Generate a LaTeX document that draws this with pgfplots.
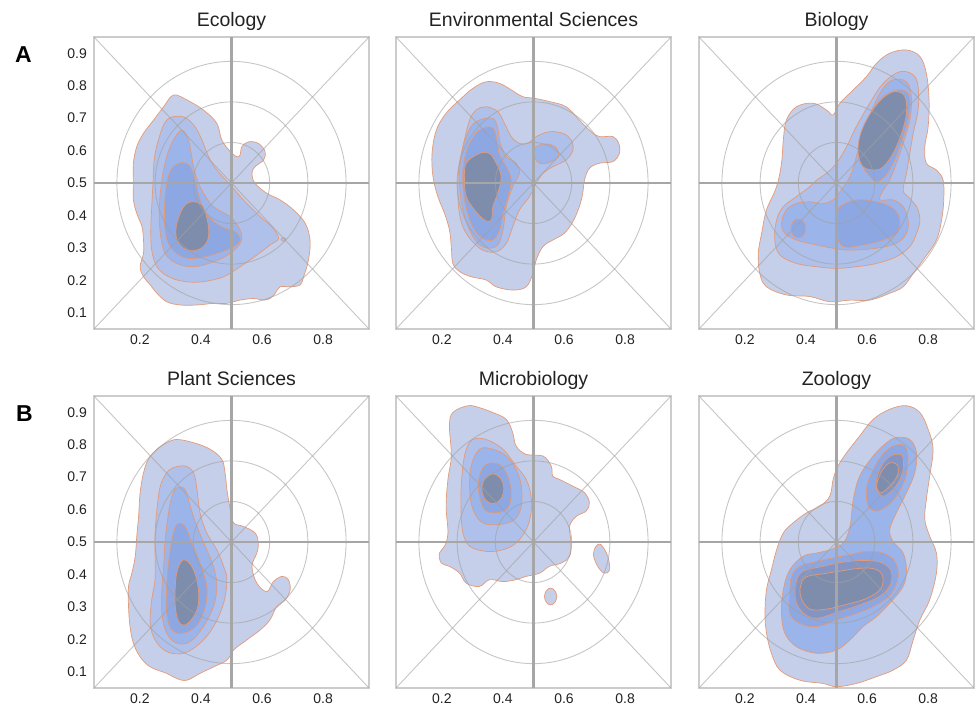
\documentclass[border=0pt]{standalone}
\usepackage{fontspec}
\setmainfont{Liberation Sans}
\usepackage{pgfplots}
\pgfplotsset{compat=1.18}
\definecolor{lvA}{HTML}{C5CFE9}
\definecolor{lvB}{HTML}{AFC1EA}
\definecolor{lvC}{HTML}{9BB4E9}
\definecolor{lvD}{HTML}{8CA7E2}
\definecolor{lvDz}{HTML}{8595C3}
\definecolor{lvE}{HTML}{7F8DAD}
\definecolor{edgec}{HTML}{E39A78}
\definecolor{framegray}{HTML}{CCCCCC}
\definecolor{centergray}{HTML}{A6A6A6}
\definecolor{gridgray}{HTML}{A0A0A0}
\definecolor{txt}{HTML}{222222}
\pgfplotsset{
  kde/.style={
    scale only axis, width=275pt, height=292pt,
    xmin=0.05, xmax=0.95, ymin=0.05, ymax=0.95,
    xtick={0.2,0.4,0.6,0.8}, ytick={0.1,0.2,0.3,0.4,0.5,0.6,0.7,0.8,0.9},
    major tick length=0pt,
    tick label style={font=\fontsize{14}{15}\selectfont, inner sep=0pt, text=txt},
    /pgf/number format/.cd, fixed, fixed zerofill, precision=1, assume math mode=true, /pgfplots/.cd,
    yticklabel shift=7pt, xticklabel shift=6pt,
    axis line style={line width=2.5pt, color=framegray},
    title style={font=\fontsize{19.5}{21}\selectfont, at={(0.5,1)}, anchor=base, yshift=4.5pt, text=txt},
  },
  noy/.style={yticklabels={}},
  L1/.style={fill=lvA, draw=edgec, line width=0.7pt, smooth cycle, tension=0.6},
  L2/.style={fill=lvB, draw=edgec, line width=0.7pt, smooth cycle, tension=0.6},
  L3/.style={fill=lvC, draw=edgec, line width=0.7pt, smooth cycle, tension=0.6},
  L4/.style={fill=lvD, draw=edgec, line width=0.7pt, smooth cycle, tension=0.6},
  Z4/.style={fill=lvDz, draw=edgec, line width=0.7pt, smooth cycle, tension=0.6},
  L5/.style={fill=lvE, draw=edgec, line width=0.7pt, smooth cycle, tension=0.6},
}
\newcommand\panelgrid{%
  \draw[gridgray, opacity=0.6, line width=0.9pt] (axis cs:0.05,0.05) -- (axis cs:0.95,0.95);
  \draw[gridgray, opacity=0.6, line width=0.9pt] (axis cs:0.05,0.95) -- (axis cs:0.95,0.05);
  \draw[gridgray, opacity=0.6, line width=0.9pt] (axis cs:0.5,0.5) ellipse [x radius=0.125, y radius=0.125];
  \draw[gridgray, opacity=0.6, line width=0.9pt] (axis cs:0.5,0.5) ellipse [x radius=0.25, y radius=0.25];
  \draw[gridgray, opacity=0.6, line width=0.9pt] (axis cs:0.5,0.5) ellipse [x radius=0.375, y radius=0.375];
  \draw[centergray, line width=2.8pt] (axis cs:0.5,0.05) -- (axis cs:0.5,0.95);
  \draw[centergray, line width=2.8pt] (axis cs:0.05,0.5) -- (axis cs:0.95,0.5);
}
\begin{document}
\begin{tikzpicture}
\useasboundingbox (0,0) rectangle (977pt,708pt);
\node[font=\bfseries\fontsize{23}{24}\selectfont, anchor=base west, inner sep=0pt] at (15pt,645pt) {A};
\node[font=\bfseries\fontsize{23}{24}\selectfont, anchor=base west, inner sep=0pt] at (16pt,286pt) {B};

% ---------------- Ecology
\begin{axis}[kde, at={(94pt,379pt)}, anchor=south west, title={Ecology}]
\addplot[L1] coordinates {(0.310,0.771)(0.354,0.756)(0.408,0.725)(0.452,0.684)(0.468,0.633)(0.496,0.597)(0.517,0.581)(0.528,0.586)(0.534,0.612)(0.556,0.627)(0.588,0.622)(0.610,0.597)(0.605,0.571)(0.577,0.550)(0.567,0.530)(0.577,0.499)(0.616,0.468)(0.659,0.448)(0.703,0.417)(0.741,0.376)(0.757,0.324)(0.752,0.263)(0.736,0.211)(0.725,0.186)(0.692,0.180)(0.659,0.180)(0.643,0.160)(0.626,0.144)(0.605,0.139)(0.572,0.144)(0.528,0.139)(0.485,0.129)(0.441,0.129)(0.387,0.124)(0.332,0.124)(0.288,0.134)(0.256,0.160)(0.234,0.186)(0.212,0.211)(0.201,0.242)(0.212,0.283)(0.212,0.324)(0.207,0.365)(0.190,0.406)(0.179,0.448)(0.179,0.499)(0.179,0.561)(0.190,0.612)(0.212,0.653)(0.245,0.694)(0.278,0.735)};
\addplot[L2] coordinates {(0.288,0.694)(0.338,0.705)(0.376,0.679)(0.403,0.633)(0.425,0.581)(0.452,0.540)(0.496,0.494)(0.539,0.448)(0.594,0.396)(0.632,0.365)(0.654,0.329)(0.626,0.309)(0.583,0.278)(0.528,0.242)(0.474,0.211)(0.408,0.196)(0.348,0.196)(0.294,0.211)(0.256,0.242)(0.239,0.293)(0.236,0.355)(0.239,0.427)(0.243,0.499)(0.247,0.571)(0.261,0.633)};
\addplot[L2] coordinates {(0.678,0.326)(0.674,0.331)(0.666,0.331)(0.662,0.326)(0.666,0.321)(0.674,0.321)};
\addplot[L3] coordinates {(0.338,0.663)(0.359,0.633)(0.370,0.581)(0.381,0.530)(0.403,0.478)(0.441,0.427)(0.496,0.396)(0.528,0.355)(0.531,0.319)(0.496,0.283)(0.441,0.257)(0.376,0.242)(0.321,0.252)(0.283,0.283)(0.267,0.345)(0.264,0.427)(0.272,0.509)(0.288,0.581)(0.310,0.633)};
\addplot[L4] coordinates {(0.338,0.563)(0.365,0.550)(0.381,0.509)(0.397,0.448)(0.425,0.396)(0.468,0.365)(0.512,0.350)(0.528,0.324)(0.507,0.304)(0.452,0.283)(0.387,0.268)(0.338,0.273)(0.299,0.304)(0.283,0.355)(0.281,0.427)(0.288,0.499)(0.305,0.545)};
\addplot[L5] coordinates {(0.370,0.442)(0.403,0.432)(0.421,0.386)(0.425,0.335)(0.408,0.304)(0.376,0.291)(0.343,0.299)(0.321,0.326)(0.319,0.365)(0.332,0.406)(0.348,0.432)};
\panelgrid
\end{axis}

% ---------------- Environmental Sciences
\begin{axis}[kde, noy, at={(396pt,379pt)}, anchor=south west, title={Environmental Sciences}]
\addplot[L1] coordinates {(0.345,0.812)(0.389,0.807)(0.427,0.787)(0.465,0.766)(0.503,0.761)(0.552,0.751)(0.607,0.735)(0.650,0.694)(0.689,0.658)(0.716,0.643)(0.760,0.643)(0.779,0.622)(0.781,0.591)(0.760,0.566)(0.716,0.561)(0.683,0.545)(0.667,0.509)(0.661,0.468)(0.650,0.427)(0.629,0.381)(0.601,0.345)(0.563,0.324)(0.531,0.304)(0.509,0.263)(0.498,0.221)(0.476,0.180)(0.432,0.170)(0.378,0.180)(0.345,0.201)(0.296,0.211)(0.258,0.227)(0.236,0.252)(0.231,0.304)(0.225,0.355)(0.209,0.406)(0.187,0.458)(0.171,0.520)(0.168,0.591)(0.182,0.663)(0.214,0.715)(0.258,0.756)(0.302,0.792)};
\addplot[L2] coordinates {(0.312,0.725)(0.345,0.735)(0.383,0.720)(0.405,0.684)(0.427,0.643)(0.454,0.622)(0.481,0.622)(0.509,0.643)(0.552,0.658)(0.596,0.653)(0.623,0.633)(0.629,0.602)(0.607,0.571)(0.563,0.550)(0.531,0.530)(0.509,0.499)(0.487,0.458)(0.454,0.417)(0.432,0.365)(0.411,0.314)(0.378,0.288)(0.334,0.293)(0.296,0.324)(0.269,0.365)(0.256,0.417)(0.252,0.489)(0.258,0.561)(0.274,0.633)(0.291,0.694)};
\addplot[L3] coordinates {(0.323,0.694)(0.367,0.699)(0.383,0.669)(0.391,0.622)(0.411,0.581)(0.443,0.561)(0.454,0.530)(0.432,0.489)(0.411,0.427)(0.400,0.355)(0.383,0.309)(0.351,0.299)(0.318,0.314)(0.291,0.355)(0.269,0.417)(0.258,0.489)(0.260,0.561)(0.274,0.627)(0.296,0.674)};
\addplot[L3] coordinates {(0.509,0.612)(0.547,0.620)(0.576,0.607)(0.580,0.581)(0.552,0.563)(0.520,0.561)(0.503,0.581)};
\addplot[L4] coordinates {(0.334,0.669)(0.367,0.669)(0.380,0.633)(0.389,0.586)(0.411,0.550)(0.427,0.509)(0.416,0.458)(0.400,0.406)(0.389,0.355)(0.367,0.324)(0.334,0.329)(0.307,0.355)(0.285,0.406)(0.271,0.468)(0.269,0.540)(0.282,0.602)(0.307,0.648)};
\addplot[L5] coordinates {(0.280,0.561)(0.323,0.591)(0.356,0.591)(0.378,0.561)(0.394,0.520)(0.383,0.468)(0.367,0.427)(0.362,0.386)(0.340,0.386)(0.307,0.417)(0.280,0.458)(0.274,0.509)};
\panelgrid
\end{axis}

% ---------------- Biology
\begin{axis}[kde, noy, at={(699pt,379pt)}, anchor=south west, title={Biology}]
\addplot[L1] coordinates {(0.674,0.900)(0.729,0.910)(0.773,0.890)(0.794,0.838)(0.803,0.756)(0.800,0.674)(0.789,0.612)(0.794,0.561)(0.827,0.540)(0.849,0.509)(0.851,0.448)(0.844,0.386)(0.827,0.324)(0.784,0.263)(0.751,0.221)(0.718,0.180)(0.674,0.160)(0.609,0.139)(0.544,0.139)(0.478,0.134)(0.413,0.150)(0.336,0.155)(0.271,0.180)(0.249,0.221)(0.244,0.283)(0.255,0.345)(0.271,0.417)(0.304,0.489)(0.320,0.561)(0.326,0.633)(0.336,0.694)(0.369,0.735)(0.424,0.746)(0.467,0.725)(0.489,0.710)(0.511,0.746)(0.555,0.787)(0.598,0.828)(0.631,0.869)};
\addplot[L2] coordinates {(0.707,0.843)(0.751,0.833)(0.767,0.797)(0.767,0.725)(0.751,0.653)(0.740,0.591)(0.729,0.530)(0.718,0.478)(0.734,0.458)(0.762,0.427)(0.773,0.386)(0.762,0.345)(0.740,0.304)(0.696,0.273)(0.631,0.252)(0.565,0.242)(0.500,0.237)(0.435,0.242)(0.369,0.252)(0.315,0.278)(0.298,0.324)(0.304,0.386)(0.326,0.427)(0.369,0.458)(0.413,0.489)(0.435,0.509)(0.467,0.530)(0.500,0.561)(0.533,0.612)(0.565,0.674)(0.609,0.746)(0.653,0.807)};
\addplot[L3] coordinates {(0.685,0.818)(0.729,0.812)(0.745,0.766)(0.740,0.694)(0.718,0.622)(0.696,0.561)(0.674,0.509)(0.653,0.478)(0.642,0.448)(0.685,0.448)(0.718,0.427)(0.734,0.386)(0.729,0.345)(0.696,0.314)(0.631,0.299)(0.544,0.293)(0.489,0.299)(0.435,0.309)(0.369,0.324)(0.331,0.345)(0.320,0.376)(0.336,0.417)(0.369,0.437)(0.413,0.442)(0.456,0.437)(0.489,0.448)(0.511,0.473)(0.544,0.520)(0.565,0.581)(0.587,0.653)(0.620,0.735)(0.653,0.792)};
\addplot[L4] coordinates {(0.702,0.787)(0.734,0.776)(0.740,0.735)(0.729,0.674)(0.707,0.612)(0.685,0.561)(0.658,0.520)(0.631,0.504)(0.609,0.520)(0.587,0.550)(0.576,0.602)(0.587,0.653)(0.615,0.715)(0.653,0.766)};
\addplot[L4] coordinates {(0.511,0.427)(0.565,0.448)(0.631,0.442)(0.685,0.422)(0.707,0.386)(0.696,0.345)(0.653,0.324)(0.587,0.309)(0.522,0.304)(0.500,0.345)(0.500,0.396)};
\addplot[L4] coordinates {(0.399,0.360)(0.392,0.381)(0.375,0.389)(0.358,0.381)(0.351,0.360)(0.358,0.339)(0.375,0.331)(0.392,0.339)};
\addplot[L5] coordinates {(0.696,0.782)(0.724,0.766)(0.729,0.715)(0.713,0.653)(0.685,0.591)(0.653,0.550)(0.625,0.540)(0.587,0.550)(0.571,0.591)(0.576,0.643)(0.598,0.694)(0.631,0.741)(0.664,0.771)};
\panelgrid
\end{axis}

% ---------------- Plant Sciences
\begin{axis}[kde, at={(94pt,20pt)}, anchor=south west, title={Plant Sciences}]
\addplot[L1] coordinates {(0.288,0.806)(0.321,0.816)(0.376,0.806)(0.430,0.786)(0.468,0.755)(0.479,0.713)(0.485,0.662)(0.496,0.600)(0.507,0.559)(0.539,0.548)(0.577,0.528)(0.588,0.497)(0.583,0.466)(0.567,0.425)(0.583,0.373)(0.616,0.347)(0.637,0.378)(0.665,0.394)(0.686,0.384)(0.692,0.353)(0.676,0.322)(0.648,0.301)(0.626,0.260)(0.594,0.229)(0.550,0.198)(0.507,0.167)(0.485,0.136)(0.441,0.115)(0.397,0.095)(0.354,0.074)(0.321,0.079)(0.288,0.095)(0.234,0.115)(0.201,0.146)(0.179,0.188)(0.168,0.239)(0.163,0.301)(0.163,0.363)(0.174,0.404)(0.185,0.456)(0.190,0.518)(0.196,0.579)(0.201,0.652)(0.212,0.713)(0.228,0.755)(0.256,0.786)};
\addplot[L2] coordinates {(0.310,0.729)(0.348,0.734)(0.376,0.713)(0.387,0.662)(0.397,0.590)(0.419,0.528)(0.452,0.476)(0.474,0.425)(0.485,0.384)(0.474,0.311)(0.441,0.239)(0.397,0.188)(0.343,0.157)(0.288,0.162)(0.250,0.198)(0.234,0.249)(0.239,0.322)(0.250,0.384)(0.250,0.456)(0.250,0.528)(0.256,0.600)(0.267,0.672)(0.288,0.713)};
\addplot[L3] coordinates {(0.321,0.667)(0.348,0.662)(0.365,0.610)(0.387,0.548)(0.414,0.487)(0.441,0.425)(0.452,0.363)(0.441,0.301)(0.408,0.239)(0.365,0.193)(0.321,0.188)(0.288,0.219)(0.272,0.280)(0.272,0.353)(0.278,0.425)(0.283,0.507)(0.294,0.590)(0.305,0.641)};
\addplot[L4] coordinates {(0.321,0.554)(0.348,0.548)(0.370,0.497)(0.397,0.435)(0.419,0.363)(0.414,0.301)(0.387,0.244)(0.343,0.219)(0.305,0.229)(0.288,0.280)(0.288,0.363)(0.294,0.435)(0.305,0.507)};
\addplot[L5] coordinates {(0.343,0.445)(0.370,0.425)(0.389,0.373)(0.392,0.311)(0.376,0.270)(0.348,0.244)(0.327,0.255)(0.316,0.301)(0.316,0.363)(0.323,0.414)};
\panelgrid
\end{axis}

% ---------------- Microbiology
\begin{axis}[kde, noy, at={(396pt,20pt)}, anchor=south west, title={Microbiology}]
\addplot[L1] coordinates {(0.236,0.899)(0.285,0.920)(0.323,0.914)(0.367,0.899)(0.411,0.878)(0.432,0.837)(0.443,0.796)(0.476,0.770)(0.531,0.765)(0.558,0.734)(0.563,0.703)(0.585,0.693)(0.629,0.672)(0.667,0.652)(0.683,0.621)(0.672,0.595)(0.640,0.579)(0.618,0.548)(0.623,0.497)(0.618,0.456)(0.591,0.435)(0.552,0.425)(0.520,0.404)(0.476,0.394)(0.443,0.384)(0.400,0.378)(0.356,0.384)(0.323,0.363)(0.280,0.373)(0.258,0.404)(0.225,0.425)(0.198,0.435)(0.192,0.466)(0.209,0.487)(0.220,0.528)(0.214,0.610)(0.220,0.693)(0.231,0.765)(0.225,0.858)};
\addplot[L1] coordinates {(0.705,0.487)(0.721,0.492)(0.743,0.456)(0.749,0.414)(0.732,0.404)(0.710,0.425)(0.696,0.461)};
\addplot[L1] coordinates {(0.576,0.332)(0.570,0.350)(0.556,0.358)(0.542,0.350)(0.536,0.332)(0.542,0.314)(0.556,0.306)(0.570,0.314)};
\addplot[L2] coordinates {(0.302,0.816)(0.345,0.816)(0.400,0.786)(0.443,0.734)(0.476,0.693)(0.492,0.641)(0.492,0.590)(0.476,0.538)(0.443,0.497)(0.400,0.476)(0.345,0.471)(0.291,0.487)(0.269,0.528)(0.263,0.590)(0.263,0.662)(0.269,0.734)(0.280,0.786)};
\addplot[L3] coordinates {(0.323,0.786)(0.367,0.786)(0.411,0.765)(0.443,0.724)(0.460,0.672)(0.460,0.610)(0.438,0.569)(0.389,0.554)(0.334,0.559)(0.302,0.600)(0.291,0.662)(0.296,0.734)};
\addplot[L4] coordinates {(0.345,0.739)(0.389,0.739)(0.416,0.703)(0.427,0.652)(0.416,0.605)(0.378,0.590)(0.340,0.600)(0.321,0.652)(0.323,0.703)};
\addplot[L5] coordinates {(0.403,0.664)(0.392,0.631)(0.367,0.618)(0.342,0.631)(0.331,0.664)(0.342,0.697)(0.367,0.710)(0.392,0.697)};
\panelgrid
\end{axis}

% ---------------- Zoology
\begin{axis}[kde, noy, at={(699pt,20pt)}, anchor=south west, title={Zoology}]
\addplot[L1] coordinates {(0.674,0.909)(0.729,0.920)(0.773,0.899)(0.800,0.847)(0.816,0.786)(0.805,0.703)(0.794,0.631)(0.789,0.569)(0.805,0.518)(0.827,0.466)(0.827,0.404)(0.805,0.322)(0.773,0.260)(0.751,0.198)(0.729,0.136)(0.685,0.105)(0.631,0.085)(0.565,0.064)(0.500,0.054)(0.456,0.064)(0.380,0.074)(0.315,0.105)(0.287,0.157)(0.271,0.219)(0.266,0.280)(0.271,0.353)(0.287,0.414)(0.304,0.476)(0.326,0.528)(0.358,0.559)(0.402,0.590)(0.445,0.610)(0.478,0.641)(0.489,0.693)(0.505,0.734)(0.533,0.775)(0.576,0.827)(0.620,0.878)};
\addplot[L3] coordinates {(0.696,0.822)(0.740,0.816)(0.762,0.775)(0.756,0.713)(0.729,0.652)(0.696,0.590)(0.674,0.538)(0.685,0.502)(0.718,0.466)(0.729,0.414)(0.718,0.363)(0.674,0.311)(0.631,0.270)(0.587,0.239)(0.544,0.198)(0.500,0.167)(0.435,0.157)(0.369,0.177)(0.331,0.219)(0.320,0.280)(0.326,0.353)(0.347,0.414)(0.391,0.456)(0.435,0.466)(0.478,0.476)(0.522,0.497)(0.544,0.548)(0.555,0.631)(0.576,0.703)(0.620,0.765)(0.664,0.806)};
\addplot[L4] coordinates {(0.685,0.796)(0.724,0.796)(0.734,0.755)(0.724,0.693)(0.696,0.641)(0.664,0.610)(0.631,0.595)(0.604,0.610)(0.598,0.662)(0.615,0.713)(0.647,0.765)};
\addplot[L4] coordinates {(0.380,0.425)(0.435,0.440)(0.489,0.451)(0.544,0.461)(0.598,0.471)(0.653,0.466)(0.691,0.440)(0.702,0.394)(0.680,0.342)(0.631,0.306)(0.565,0.280)(0.500,0.260)(0.435,0.239)(0.380,0.249)(0.347,0.280)(0.347,0.342)(0.353,0.394)};
\addplot[Z4] coordinates {(0.691,0.770)(0.716,0.765)(0.718,0.724)(0.702,0.682)(0.674,0.652)(0.653,0.641)(0.633,0.657)(0.631,0.693)(0.647,0.734)(0.669,0.760)};
\addplot[Z4] coordinates {(0.391,0.410)(0.456,0.425)(0.522,0.438)(0.587,0.443)(0.642,0.438)(0.677,0.414)(0.677,0.370)(0.642,0.333)(0.576,0.306)(0.511,0.286)(0.435,0.265)(0.391,0.281)(0.366,0.322)(0.368,0.376)};
\addplot[L5] coordinates {(0.674,0.744)(0.698,0.739)(0.702,0.713)(0.685,0.682)(0.664,0.662)(0.642,0.652)(0.631,0.672)(0.640,0.703)(0.656,0.729)};
\addplot[L5] coordinates {(0.400,0.392)(0.456,0.402)(0.511,0.410)(0.565,0.418)(0.620,0.418)(0.650,0.398)(0.645,0.356)(0.598,0.326)(0.533,0.308)(0.467,0.293)(0.413,0.293)(0.385,0.326)(0.382,0.363)};
\panelgrid
\end{axis}
\end{tikzpicture}
\end{document}
